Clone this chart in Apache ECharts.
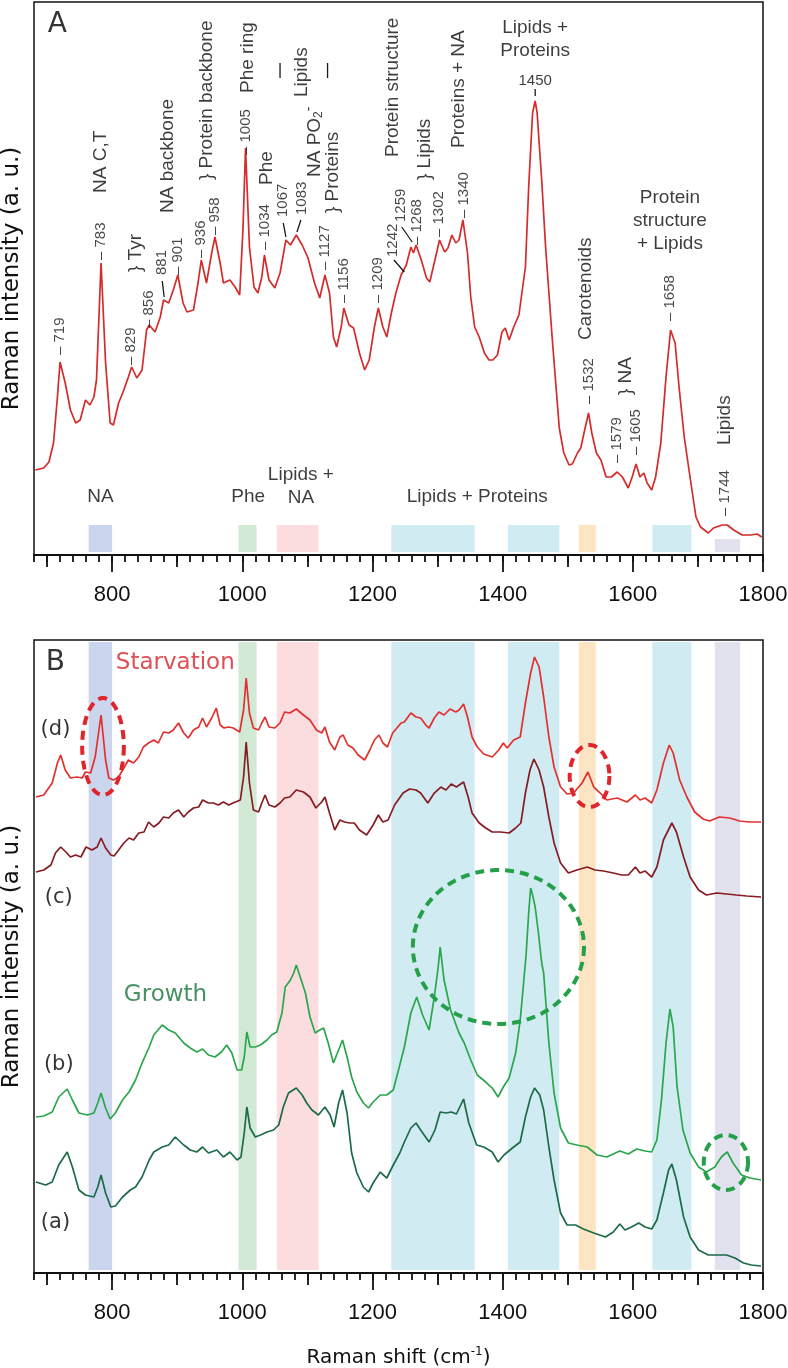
<!DOCTYPE html>
<html><head><meta charset="utf-8">
<script src="https://cdn.jsdelivr.net/npm/echarts@6/dist/echarts.min.js"></script>
<style>html,body{margin:0;padding:0;background:#fff}#c{width:788px;height:1368px}</style>
</head><body><div id="c"></div>
<script>
// ---------------- DATA ----------------
// Panel A: mean Raman spectrum (Raman shift cm-1, intensity a.u.)
const panelAShift = [682,695,703,710,716,720,728,736,744,751,759,766,772,776,783,790,797,802,810,818,825,830,838,846,853,857,866,874,879,887,894,901,909,915,925,932,937,945,953,958,966,971,981,989,996,1001,1005,1011,1018,1024,1030,1034,1041,1050,1058,1067,1074,1083,1092,1101,1111,1119,1127,1134,1140,1145,1152,1156,1164,1171,1180,1188,1195,1203,1209,1216,1222,1229,1236,1244,1252,1259,1263,1267,1275,1283,1288,1296,1303,1311,1316,1322,1328,1333,1339,1346,1351,1357,1364,1372,1379,1385,1392,1399,1404,1410,1417,1425,1428,1435,1440,1446,1450,1453,1460,1466,1476,1487,1494,1502,1507,1515,1520,1525,1532,1537,1544,1551,1559,1567,1576,1584,1593,1599,1605,1611,1617,1622,1629,1635,1643,1651,1658,1665,1671,1679,1687,1697,1704,1716,1724,1737,1745,1755,1768,1781,1791,1798];
const panelAInt = [85,87,93,112,158,193,172,145,132,135,155,150,158,175,292,192,132,130,152,165,178,188,177,185,225,230,223,238,255,252,265,280,252,243,245,272,295,272,302,318,292,272,275,268,260,325,407,308,268,262,278,300,275,267,282,315,310,320,310,297,272,257,280,262,218,208,228,247,230,227,202,185,195,228,247,228,218,242,262,280,290,308,302,310,295,277,273,295,315,303,307,320,312,315,335,302,258,228,218,202,195,195,200,223,227,215,228,240,242,288,368,442,454,442,375,308,218,127,102,90,91,102,107,122,142,122,102,95,78,78,83,78,67,78,91,78,82,72,65,78,112,178,225,212,168,118,82,38,28,22,27,30,30,25,20,20,21,18];

// Panel B: (d) starvation
const dShift = [683,695,708,716,721,728,736,746,754,759,767,774,783,790,795,802,810,818,825,833,841,848,856,864,871,879,887,894,902,910,917,925,933,939,945,953,960,966,972,979,986,996,1002,1006,1011,1017,1025,1030,1035,1041,1050,1058,1065,1073,1083,1094,1104,1114,1122,1127,1134,1142,1150,1155,1162,1170,1178,1188,1196,1203,1210,1216,1223,1231,1244,1249,1259,1267,1274,1282,1287,1295,1302,1310,1319,1328,1333,1340,1346,1353,1361,1371,1384,1394,1401,1407,1417,1427,1435,1443,1449,1456,1463,1471,1479,1489,1499,1509,1522,1531,1540,1550,1560,1576,1591,1604,1611,1619,1629,1637,1647,1656,1662,1672,1683,1695,1708,1718,1733,1749,1764,1779,1797];
const dInt = [476,478,490,510,518,503,495,496,495,501,500,516,558,513,495,493,496,505,513,510,516,526,530,533,530,541,540,543,550,540,535,543,546,555,546,555,565,548,545,546,545,541,563,595,560,545,543,550,556,546,545,550,561,560,564,558,553,543,540,546,531,523,536,538,528,525,518,513,523,533,538,530,526,540,550,551,560,556,555,548,545,555,561,558,564,561,563,569,556,536,526,519,516,523,530,525,533,536,570,600,616,606,576,536,506,486,479,480,490,501,486,480,473,475,471,478,473,475,470,483,510,528,520,493,476,461,454,452,456,455,452,451,451];
// (c)
const cShift = [683,695,706,713,721,729,736,744,752,760,769,777,783,790,798,803,810,818,826,833,841,849,856,864,872,879,887,894,902,910,917,925,933,939,948,956,963,971,979,986,997,1002,1006,1011,1017,1025,1030,1035,1041,1050,1058,1065,1073,1083,1094,1104,1113,1122,1127,1134,1142,1150,1157,1165,1172,1180,1191,1201,1209,1216,1224,1234,1247,1257,1267,1274,1285,1295,1305,1313,1321,1329,1340,1347,1353,1364,1374,1384,1397,1410,1420,1428,1435,1442,1448,1456,1463,1471,1479,1489,1501,1514,1530,1542,1555,1570,1583,1593,1604,1611,1619,1629,1637,1647,1660,1667,1678,1688,1701,1713,1729,1744,1759,1775,1797];
const cInt = [401,403,408,420,426,421,416,418,416,426,423,426,435,425,418,417,423,430,435,433,440,441,451,446,450,456,455,460,463,456,461,465,466,473,470,470,468,471,468,470,473,496,531,490,463,461,470,478,468,466,470,475,476,483,481,476,465,471,476,460,443,453,451,450,450,443,438,448,458,451,453,468,480,484,483,480,470,480,486,483,489,486,491,476,460,450,445,441,441,440,445,450,480,503,514,503,486,456,430,410,400,403,406,403,402,400,398,398,406,400,402,396,406,433,450,441,416,396,383,378,380,379,378,377,376];
// (b) growth
const bShift = [683,695,708,718,731,739,749,762,772,778,783,790,797,805,816,826,836,846,857,864,877,887,897,910,920,930,939,948,958,968,976,984,992,999,1003,1007,1012,1020,1028,1038,1045,1053,1061,1066,1074,1079,1083,1089,1097,1104,1112,1119,1125,1132,1140,1148,1154,1161,1168,1176,1186,1194,1201,1212,1222,1232,1240,1249,1259,1268,1277,1287,1295,1301,1304,1310,1320,1333,1341,1351,1361,1374,1384,1393,1401,1410,1420,1427,1433,1436,1440,1443,1446,1450,1455,1460,1463,1471,1479,1489,1501,1514,1530,1545,1560,1580,1593,1606,1619,1629,1637,1644,1651,1657,1662,1668,1677,1688,1701,1713,1726,1736,1745,1754,1767,1780,1797];
const bInt = [156,157,161,176,184,173,160,158,160,170,180,165,154,160,173,181,193,210,226,238,248,243,240,230,225,221,224,218,216,221,228,220,203,203,216,241,226,226,228,233,238,241,260,286,293,300,308,296,280,256,240,243,245,230,210,223,233,216,196,181,170,165,171,178,178,183,203,226,260,276,258,243,276,306,326,293,263,240,230,213,198,191,185,176,186,195,220,253,296,318,360,385,378,366,340,310,300,230,180,145,130,128,126,118,116,122,119,124,122,121,133,173,230,264,246,186,143,120,106,101,106,116,121,110,98,95,93];
// (a)
const aShift = [683,698,708,718,731,739,749,759,772,778,783,790,798,805,816,828,836,846,857,864,877,887,897,910,920,930,939,948,961,971,981,992,998,1003,1007,1012,1020,1028,1038,1048,1056,1063,1071,1083,1092,1099,1107,1117,1127,1135,1141,1148,1154,1161,1168,1176,1186,1194,1201,1212,1222,1232,1242,1249,1259,1267,1274,1287,1296,1304,1313,1321,1329,1340,1348,1360,1371,1384,1393,1402,1415,1427,1435,1443,1449,1457,1463,1471,1479,1489,1499,1512,1524,1540,1558,1570,1580,1588,1598,1609,1619,1629,1637,1647,1655,1660,1667,1678,1688,1701,1716,1731,1744,1757,1770,1782,1797];
const aInt = [91,88,91,108,121,106,83,78,76,86,98,80,66,67,76,83,86,96,113,121,126,128,136,128,123,121,126,120,123,116,121,113,116,140,166,145,136,138,141,143,148,166,180,185,178,170,163,158,166,158,146,170,183,160,120,100,86,81,90,101,95,108,120,131,145,150,143,131,143,161,160,161,159,174,150,128,126,121,111,118,125,131,156,176,185,178,163,126,93,60,48,48,44,40,36,41,49,43,46,50,46,44,53,80,103,109,93,56,36,23,18,18,18,15,10,8,7];

// Assignment bands (cm-1)
const bandStart = [764, 994, 1053, 1229, 1408, 1517, 1630, 1726];
const bandEnd   = [800, 1022, 1117, 1357, 1487, 1543, 1690, 1765];

// Peak labels, panel A
const peakNums   = [719,783,829,856,881,901,936,958,1005,1034,1067,1083,1127,1156,1209,1242,1259,1268,1302,1340,1532,1579,1605,1658,1744];
const peakLabelX = [720,783,829,856,877,901,936,958,1005,1034,1063,1091,1127,1156,1209,1231,1243,1268,1302,1340,1532,1576,1604,1657,1742];
const peakLabelY = [200,295,190,227,280,280,297,320,400,305,338,340,285,252,252,298,333,310,318,337,151,92,100,234,39];
const leaderPeaks = [881,1067,1083,1242,1259];
const leaderSegs = [[880,258,877,274],[1067,318,1063,332],[1084,323,1090,335],[1249,283,1233,295],[1261,313,1245,328],[1450,459,1450,466],[1058,477,1058,492],[1131,477,1131,492]];

// Assignment texts, panel A (rotated)
const assignText = ['NA C,T','} Tyr','NA backbone','} Protein backbone','Phe ring','Phe','Lipids','NA PO{s|2}{p|-}','} Proteins','Protein structure','} Lipids','Proteins + NA','Carotenoids','} NA','Lipids'];
const assignX    = [782, 836, 886, 946, 1009, 1038, 1091, 1111, 1139, 1231, 1280, 1333, 1528, 1589, 1742];
const assignY    = [362, 283, 342, 375, 462, 370, 458, 378, 342, 398, 375, 407, 215, 160, 110];
// Horizontal texts, panel A
const hText = ['Lipids +\nProteins','Protein\nstructure\n+ Lipids','NA','Phe','Lipids +\nNA','Lipids + Proteins','1450'];
const hX    = [1450, 1657, 782, 1009, 1090, 1361, 1450];
const hY    = [516, 334, 58, 58, 69, 58, 474];

// Ellipse highlights (x0, x1, y0, y1)
const redEllipses   = [[754, 818, 478, 575],[1503, 1564, 466, 528]];
const greenEllipses = [[1262, 1525, 249, 403],[1709, 1777, 83, 138]];

// Axis ticks
const majorTicks = [800,1000,1200,1400,1600,1800];
const midTicks = [700,900,1100,1300,1500,1700];

// ---------------- CHART ----------------
const zip = (xs, ys) => xs.map((x, i) => [x, ys[i]]);
const SANS = 'Liberation Sans, Arial, sans-serif';
const DV = 'DejaVu Sans, Verdana, sans-serif';
const bandColors = ['#cbd5ee','#d2ead5','#fbdcdf','#d1ebf2','#d1ebf2','#fde4c3','#d1ebf2','#e2e2ee'];
const bandTopA = [30,30,30,30,30,30,30,16];

function xAxesFor(g, withName) {
  const base = {gridIndex:g, type:'value', min:680, max:1800, position:'bottom', offset:0, splitLine:{show:false}};
  return [
    Object.assign({}, base, {
      axisLine:{show:true, lineStyle:{color:'#111', width:2}},
      axisTick:{show:true, length:17, customValues: majorTicks, lineStyle:{color:'#111', width:1.8}},
      axisLabel:{show:true, customValues: majorTicks, formatter: v => String(v), fontSize:22, fontFamily:SANS, color:'#111', margin:29},
      name: withName ? 'Raman shift (cm{sup|-1})' : '',
      nameLocation:'middle', nameGap:73,
      nameTextStyle:{fontSize:20, fontFamily:DV, color:'#111', rich:{sup:{fontSize:12, fontFamily:DV, color:'#111', padding:[0,0,12,0]}}}
    }),
    Object.assign({}, base, {
      axisLine:{show:false},
      axisTick:{show:true, length:12, customValues: midTicks, lineStyle:{color:'#111', width:1.8}},
      axisLabel:{show:false}
    }),
    Object.assign({}, base, {
      interval:20,
      axisLine:{show:false},
      axisTick:{show:true, length:7, lineStyle:{color:'#111', width:1.8}},
      axisLabel:{show:false}
    })
  ];
}
function yAxisFor(g, max) {
  return {gridIndex:g, type:'value', min:0, max:max, axisLine:{show:false}, axisTick:{show:false}, axisLabel:{show:false}, splitLine:{show:false},
    name:'Raman intensity (a. u.)', nameLocation:'middle', nameGap:10, nameRotate:90,
    nameTextStyle:{fontSize:23, fontFamily:DV, color:'#111'}};
}

function bandSeries(xi, yi, topArr, bottom) {
  return {
    type:'custom', xAxisIndex:xi, yAxisIndex:yi, silent:true, z:1,
    data: bandStart.map((s, i) => [s, bandEnd[i]]),
    encode:{x:[0,1]},
    renderItem: (params, api) => {
      const i = params.dataIndex;
      const p0 = api.coord([api.value(0), topArr[i]]);
      const p1 = api.coord([api.value(1), bottom]);
      return {type:'rect', shape:{x:p0[0], y:p0[1], width:p1[0]-p0[0], height:p1[1]-p0[1]}, style:{fill:bandColors[i]}};
    }
  };
}
function ellipseSeries(list, color) {
  return {
    type:'custom', xAxisIndex:3, yAxisIndex:1, silent:true, z:5,
    data: list, encode:{x:[0,1], y:[2,3]},
    renderItem: (params, api) => {
      const p0 = api.coord([api.value(0), api.value(2)]);
      const p1 = api.coord([api.value(1), api.value(3)]);
      const cx = (p0[0]+p1[0])/2, cy = (p0[1]+p1[1])/2;
      const rx = Math.abs(p1[0]-p0[0])/2, ry = Math.abs(p1[1]-p0[1])/2;
      const pts = [];
      for (let k = 0; k < 90; k++) { const t = k/90*Math.PI*2; pts.push([cx+rx*Math.cos(t), cy+ry*Math.sin(t)]); }
      return {type:'polygon', shape:{points:pts}, style:{fill:'none', stroke:color, lineWidth:4, lineDash:[9,6]}};
    }
  };
}
function lineSeries(xs, ys, color, xi, yi) {
  return {type:'line', xAxisIndex:xi, yAxisIndex:yi, data:zip(xs, ys), showSymbol:false, symbol:'none', silent:true, z:3,
    lineStyle:{color:color, width:1.7}, itemStyle:{color:color}};
}
function textItem(x, y, text, lab) {
  return {value:[x, y], label:Object.assign({show:true, position:'inside', formatter:text}, lab)};
}

const TXT = '#0d0d0d';
const rotLab = {rotate:90, align:'left', verticalAlign:'middle', fontSize:19, fontFamily:SANS, color:TXT,
  rich:{s:{fontSize:12, fontFamily:SANS, color:TXT, padding:[8,0,0,0]}, p:{fontSize:14, fontFamily:SANS, color:TXT, padding:[0,0,10,0]}}};
const numLab = {rotate:90, align:'left', verticalAlign:'middle', fontSize:15, fontFamily:SANS, color:'#1a1a1a'};
const hLab = {align:'center', verticalAlign:'middle', fontSize:19, fontFamily:SANS, color:TXT, lineHeight:23};

const annA = [];
peakNums.forEach((n, i) => {
  const txt = leaderPeaks.indexOf(n) >= 0 ? String(n) : '\u2013 ' + n;
  annA.push(textItem(peakLabelX[i], peakLabelY[i], txt, numLab));
});
assignText.forEach((t, i) => annA.push(textItem(assignX[i], assignY[i], t, rotLab)));
hText.forEach((t, i) => annA.push(textItem(hX[i], hY[i], t, i === hText.length-1 ? Object.assign({}, hLab, {fontSize:15}) : hLab)));
annA.push(textItem(716, 530, 'A', {align:'center', verticalAlign:'middle', fontSize:28, fontFamily:DV, color:'#000'}));

const bLab = {align:'center', verticalAlign:'middle', fontSize:21, fontFamily:DV, color:'#000'};
const annB = [
  textItem(713, 610, 'B', Object.assign({}, bLab, {fontSize:28})),
  textItem(897, 610, 'Starvation', Object.assign({}, bLab, {fontSize:23, color:'#d6232b'})),
  textItem(713, 543, '(d)', bLab),
  textItem(718, 375, '(c)', bLab),
  textItem(882, 278, 'Growth', Object.assign({}, bLab, {fontSize:23, color:'#17753a'})),
  textItem(718, 208, '(b)', bLab),
  textItem(713, 50, '(a)', bLab)
];

const option = {
  animation:false,
  backgroundColor:'#fff',
  grid:[
    {left:34, top:2, width:729, height:553, show:true, borderColor:'#111', borderWidth:1.5, containLabel:false, outerBoundsMode:'none'},
    {left:34, top:640, width:729, height:633, show:true, borderColor:'#111', borderWidth:1.5, containLabel:false, outerBoundsMode:'none'}
  ],
  xAxis: xAxesFor(0, false).concat(xAxesFor(1, true)),
  yAxis: [yAxisFor(0, 553), yAxisFor(1, 633)],
  series: [
    bandSeries(0, 0, bandTopA, 3),
    bandSeries(3, 1, bandStart.map(() => 631), 3),
    lineSeries(panelAShift, panelAInt, '#d42b2b', 0, 0),
    lineSeries(dShift, dInt, '#e2302f', 3, 1),
    lineSeries(cShift, cInt, '#861c22', 3, 1),
    lineSeries(bShift, bInt, '#2aa64c', 3, 1),
    lineSeries(aShift, aInt, '#1c6a47', 3, 1),
    ellipseSeries(redEllipses, '#e0242b'),
    ellipseSeries(greenEllipses, '#25a04a'),
    {
      type:'custom', xAxisIndex:0, yAxisIndex:0, silent:true, z:4,
      data: leaderSegs, encode:{x:[0,2], y:[1,3]},
      renderItem: (params, api) => {
        const p0 = api.coord([api.value(0), api.value(1)]);
        const p1 = api.coord([api.value(2), api.value(3)]);
        return {type:'line', shape:{x1:p0[0], y1:p0[1], x2:p1[0], y2:p1[1]}, style:{stroke:'#1a1a1a', lineWidth:1.3}};
      }
    },
    {type:'scatter', xAxisIndex:0, yAxisIndex:0, symbolSize:1, itemStyle:{color:'rgba(0,0,0,0)'}, silent:true, z:6, data:annA},
    {type:'scatter', xAxisIndex:3, yAxisIndex:1, symbolSize:1, itemStyle:{color:'rgba(0,0,0,0)'}, silent:true, z:6, data:annB}
  ]
};
const chart = echarts.init(document.getElementById('c'));
chart.setOption(option);
</script></body></html>
